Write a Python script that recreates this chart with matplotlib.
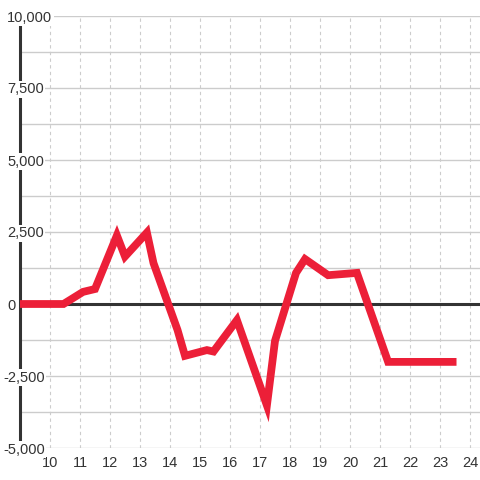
import matplotlib
matplotlib.use("Agg")
import matplotlib.pyplot as plt
from matplotlib.transforms import blended_transform_factory

plt.rcParams['font.family'] = ['Liberation Sans', 'DejaVu Sans']

# data
hours = [9.0, 10.45, 11.1, 11.5, 12.23, 12.5, 13.23, 13.45, 14.25, 14.5,
         15.23, 15.45, 16.23, 17.23, 17.5, 18.2, 18.5, 19.27, 20.23, 21.27, 23.55]
values = [0, 0, 420, 520, 2380, 1650, 2480, 1420, -900, -1800,
          -1600, -1650, -560, -3520, -1280, 1080, 1560, 1000, 1080, -2010, -2010]

x_ticks = list(range(10, 25))
y_labels = [10000, 7500, 5000, 2500, 0, -2500, -5000]
y_grid = [-5000 + 1250 * i for i in range(13)]

fig = plt.figure(figsize=(4.8, 4.8), dpi=100)
ax = fig.add_axes([20 / 480, 32 / 480, 460 / 480, 432 / 480])

ax.set_xlim(9, 24.333)
ax.set_ylim(-5000, 10000)

# grid
ax.set_yticks(y_grid)
ax.set_xticks(x_ticks)
ax.grid(axis='y', color='#cccccc', lw=1, ls='-')
ax.grid(axis='x', color='#cccccc', lw=0.8, ls=(0, (3, 3)))
ax.set_axisbelow(True)
ax.tick_params(axis='y', length=0, labelleft=False)
ax.tick_params(axis='x', length=0, pad=6, labelsize=10.5, labelcolor='#333333')

for s in ['top', 'right', 'bottom']:
    ax.spines[s].set_visible(False)
ax.spines['left'].set_color('#333333')
ax.spines['left'].set_linewidth(2.2)

ax.axhline(0, color='#333333', lw=2.2, zorder=2)

ax.plot(hours, values, color='#ec1f38', lw=5.6, solid_capstyle='butt',
        solid_joinstyle='miter', zorder=3)

trans = blended_transform_factory(fig.transFigure, ax.transData)
for v in y_labels:
    xpos = 3 / 480 if v < 0 else 7 / 480
    ax.text(xpos, v, f"{v:,}", transform=trans, ha='left', va='center_baseline',
            fontsize=10.5, color='#333333', zorder=4, clip_on=False,
            bbox=dict(facecolor='white', edgecolor='none', pad=1))

fig.savefig("out.png", dpi=100)
